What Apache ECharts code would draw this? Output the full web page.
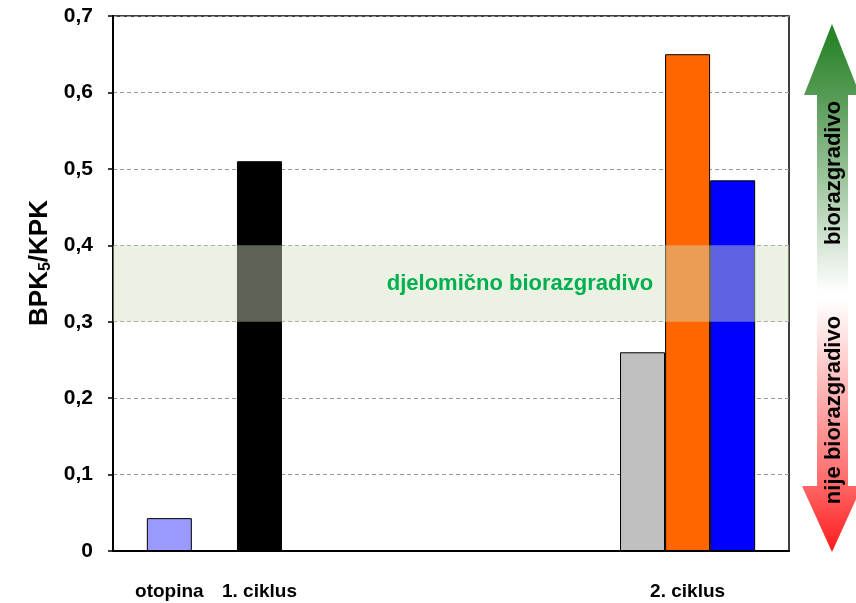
<!DOCTYPE html>
<html>
<head>
<meta charset="utf-8">
<script src="https://cdn.jsdelivr.net/npm/echarts@6/dist/echarts.min.js"></script>
<style>html,body{margin:0;padding:0;background:#fff}#c{width:856px;height:603px}</style>
</head>
<body>
<div id="c"></div>
<script>
// ---- data ----
const groups = ['otopina', '1. ciklus', '2. ciklus'];
const groupValues = [[0.043], [0.51], [0.26, 0.65, 0.485]];
const groupColors = [['#9999FF'], ['#000000'], ['#C0C0C0', '#FF6600', '#0000FF']];
const yTicks = [0, 0.1, 0.2, 0.3, 0.4, 0.5, 0.6, 0.7];
const bandRange = [0.3, 0.4];
const bandLabel = 'djelomično biorazgradivo';
const upLabel = 'biorazgradivo';
const downLabel = 'nije biorazgradivo';
const yTitle = 'BPK{sub|5}/KPK';

// ---- layout (slot positions on a fine category axis) ----
const SLOTS = 30;
const groupSlots = [2, 6, 25];
const slotLabels = new Array(SLOTS).fill('');
const slotData = new Array(SLOTS).fill(null);
groups.forEach((g, gi) => {
  slotLabels[groupSlots[gi]] = g;
  const n = groupValues[gi].length;
  groupValues[gi].forEach((v, j) => {
    const s = groupSlots[gi] + (j - (n - 1) / 2) * 2;
    slotData[s] = { value: v, itemStyle: { color: groupColors[gi][j] } };
  });
});

const FONT = '"Liberation Sans", Arial, sans-serif';
const chart = echarts.init(document.getElementById('c'));
chart.setOption({
  animation: false,
  textStyle: { fontFamily: FONT },
  grid: { left: 113, right: 67, top: 16, bottom: 52, show: true, borderColor: '#000', borderWidth: 1.5, backgroundColor: 'transparent' },
  xAxis: {
    type: 'category',
    data: slotLabels,
    axisTick: { show: false },
    axisLine: { lineStyle: { color: '#000', width: 2 } },
    axisLabel: { interval: 0, color: '#000', fontWeight: 'bold', fontSize: 19, fontFamily: FONT, margin: 31 },
    splitLine: { show: false }
  },
  yAxis: {
    type: 'value',
    min: yTicks[0], max: yTicks[yTicks.length - 1], interval: 0.1,
    axisLine: { show: true, lineStyle: { color: '#000', width: 2 } },
    axisTick: { show: true, length: 5, lineStyle: { color: '#000', width: 1.5 } },
    axisLabel: {
      color: '#000', fontWeight: 'bold', fontSize: 21, fontFamily: FONT, margin: 20,
      formatter: v => (Math.round(v * 10) / 10).toString().replace('.', ',')
    },
    splitLine: { show: true, lineStyle: { color: '#999', type: [4, 3], width: 1 } }
  },
  series: [
    {
      type: 'bar',
      data: slotData,
      barWidth: 45,
      itemStyle: { borderColor: '#000', borderWidth: 1 },
      z: 2
    },
    {
      type: 'line',
      data: [],
      z: 10,
      markArea: {
        silent: true,
        z: 10,
        itemStyle: { color: 'rgba(211,225,191,0.44)' },
        label: {
          show: true, position: 'inside', offset: [69, 0],
          color: '#00B050', fontWeight: 'bold', fontSize: 22, fontFamily: FONT
        },
        data: [[{ yAxis: bandRange[0], name: bandLabel }, { yAxis: bandRange[1] }]]
      }
    }
  ],
  graphic: [
    {
      type: 'text', silent: true, x: 40, y: 263, rotation: Math.PI / 2,
      style: {
        text: yTitle, fill: '#000', font: 'bold 26px ' + FONT, align: 'center', verticalAlign: 'middle',
        rich: { sub: { font: 'bold 16px ' + FONT, fill: '#000', padding: [12, 0, 0, 0] } }
      }
    },
    {
      type: 'polygon', silent: true,
      shape: { points: [[832, 24], [860, 95], [848, 95], [848, 292], [817, 292], [817, 95], [804, 95]] },
      style: { fill: new echarts.graphic.LinearGradient(0, 0, 0, 1, [
        { offset: 0, color: '#1E7F1E' }, { offset: 0.3, color: '#5C9E5C' }, { offset: 1, color: '#FFFFFF' }]) }
    },
    {
      type: 'polygon', silent: true,
      shape: { points: [[817, 300], [848, 300], [848, 486], [862, 486], [832, 552], [802, 486], [817, 486]] },
      style: { fill: new echarts.graphic.LinearGradient(0, 0, 0, 1, [
        { offset: 0, color: '#FFFFFF' }, { offset: 0.7, color: '#FF7070' }, { offset: 1, color: '#FF1A1A' }]) }
    },
    {
      type: 'text', silent: true, x: 834, y: 173, rotation: Math.PI / 2,
      style: { text: upLabel, fill: '#000', font: 'bold 22px ' + FONT, align: 'center', verticalAlign: 'middle' }
    },
    {
      type: 'text', silent: true, x: 834, y: 410, rotation: Math.PI / 2,
      style: { text: downLabel, fill: '#000', font: 'bold 22px ' + FONT, align: 'center', verticalAlign: 'middle' }
    }
  ]
});
</script>
</body>
</html>
